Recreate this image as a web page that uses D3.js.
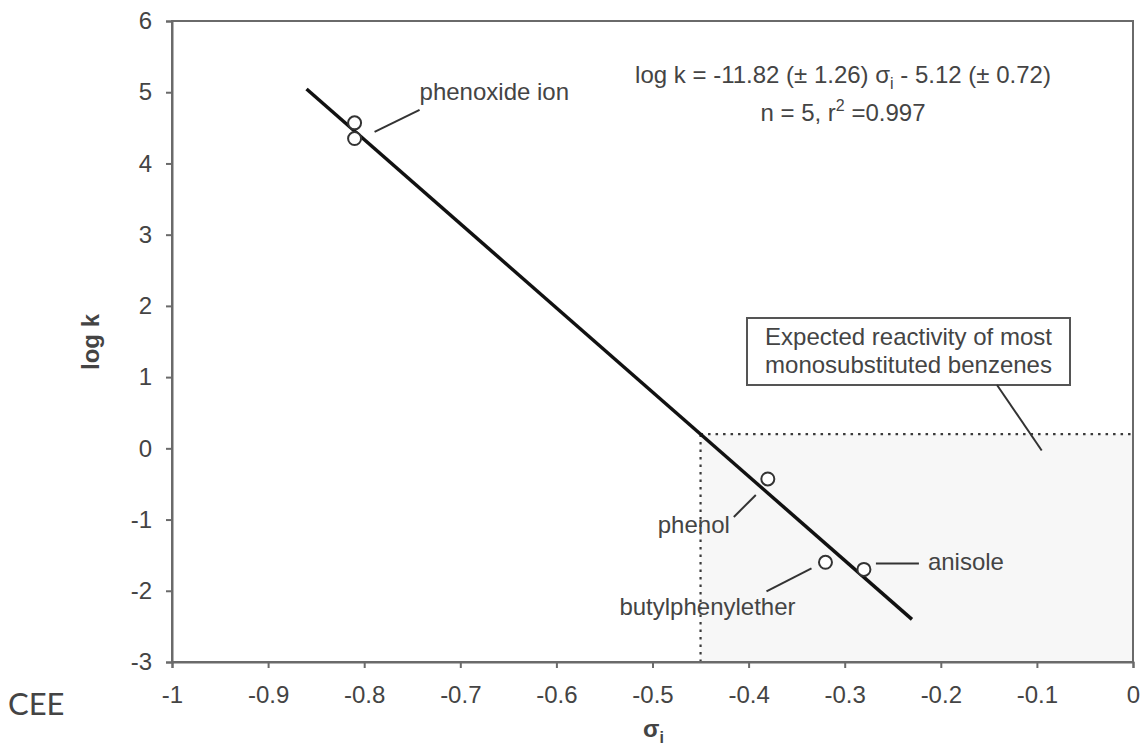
<!DOCTYPE html>
<html>
<head>
<meta charset="utf-8">
<script src="https://cdn.jsdelivr.net/npm/d3@7"></script>
<style>
  html, body { margin: 0; padding: 0; background: #fff; }
  svg text { font-family: "Liberation Sans", Arial, sans-serif; fill: #444; }
</style>
</head>
<body>
<svg id="chart" width="1145" height="746"></svg>
<script>
// Measured rate constants vs. inductive substituent constant
const compounds = ["phenoxide ion", "phenoxide ion", "phenol", "butylphenylether", "anisole"];
const sigmaI    = [-0.81, -0.81, -0.38, -0.32, -0.28];
const logK      = [4.57, 4.35, -0.43, -1.60, -1.70];

// Fitted regression: log k = slope * sigma_i + intercept
const slope = -11.82;
const intercept = -5.12;
const fitRange = [-0.86, -0.23];

// Region of expected reactivity for monosubstituted benzenes
const regionSigma = [-0.45, 0];
const regionLogK  = [-3, 0.2];

const xTicks = [-1, -0.9, -0.8, -0.7, -0.6, -0.5, -0.4, -0.3, -0.2, -0.1, 0];
const yTicks = [-3, -2, -1, 0, 1, 2, 3, 4, 5, 6];

const svg = d3.select("#chart");
const W = 1145, H = 746;
const margin = { top: 21, right: 12, bottom: 84, left: 172 };

const x = d3.scaleLinear().domain([-1, 0]).range([margin.left, W - margin.right]);
const y = d3.scaleLinear().domain([-3, 6]).range([H - margin.bottom, margin.top]);

const axisColor = "#6a6a6a";
const fontSize = 24;

// shaded region
svg.append("rect")
  .attr("x", x(regionSigma[0]))
  .attr("y", y(regionLogK[1]))
  .attr("width", x(regionSigma[1]) - x(regionSigma[0]))
  .attr("height", y(regionLogK[0]) - y(regionLogK[1]))
  .attr("fill", "#f7f7f7");

// dotted boundaries of the region
const dotted = { stroke: "#3a3a3a", width: 2.2, dash: "2.5,5" };
svg.append("line")
  .attr("x1", x(regionSigma[0])).attr("x2", x(regionSigma[1]))
  .attr("y1", y(regionLogK[1])).attr("y2", y(regionLogK[1]))
  .attr("stroke", dotted.stroke).attr("stroke-width", dotted.width).attr("stroke-dasharray", dotted.dash);
svg.append("line")
  .attr("x1", x(regionSigma[0])).attr("x2", x(regionSigma[0]))
  .attr("y1", y(regionLogK[0])).attr("y2", y(regionLogK[1]))
  .attr("stroke", dotted.stroke).attr("stroke-width", dotted.width).attr("stroke-dasharray", dotted.dash);

// frame
svg.append("rect")
  .attr("x", margin.left).attr("y", margin.top)
  .attr("width", W - margin.right - margin.left)
  .attr("height", H - margin.bottom - margin.top)
  .attr("fill", "none").attr("stroke", axisColor).attr("stroke-width", 2);

// axes
const xAxis = svg.append("g")
  .attr("transform", `translate(0,${H - margin.bottom})`)
  .call(d3.axisBottom(x).tickValues(xTicks).tickSize(6).tickPadding(18)
        .tickFormat(d => String(d)));
const yAxis = svg.append("g")
  .attr("transform", `translate(${margin.left},0)`)
  .call(d3.axisLeft(y).tickValues(yTicks).tickSize(6).tickPadding(14)
        .tickFormat(d => String(d)));

[xAxis, yAxis].forEach(g => {
  g.select(".domain").attr("stroke", axisColor).attr("stroke-width", 2);
  g.selectAll(".tick line").attr("stroke", axisColor).attr("stroke-width", 2);
  g.selectAll(".tick text")
    .attr("fill", "#444")
    .style("font-family", '"Liberation Sans", Arial, sans-serif')
    .style("font-size", fontSize + "px");
});

// regression line
svg.append("line")
  .attr("x1", x(fitRange[0])).attr("y1", y(slope * fitRange[0] + intercept))
  .attr("x2", x(fitRange[1])).attr("y2", y(slope * fitRange[1] + intercept))
  .attr("stroke", "#111").attr("stroke-width", 3.5);

// data points
svg.append("g").selectAll("circle")
  .data(d3.range(sigmaI.length))
  .join("circle")
  .attr("cx", i => x(sigmaI[i]))
  .attr("cy", i => y(logK[i]))
  .attr("r", 6.5)
  .attr("fill", "#fff")
  .attr("stroke", "#333")
  .attr("stroke-width", 2);

// point labels with leader lines (offsets in px from the labelled point)
const labels = [
  { i: 0, lead: [20, 9, 65, -13], text: [65, -29], anchor: "start" },
  { i: 2, lead: [-34, 38, -12, 16], text: [-38, 48], anchor: "end" },
  { i: 3, lead: [-59, 29, -14, 6], text: [-118, 46], anchor: "middle" },
  { i: 4, lead: [12, -6, 55, -6], text: [64, -6], anchor: "start" }
];
const lab = svg.append("g");
labels.forEach(l => {
  const px = x(sigmaI[l.i]), py = y(logK[l.i]);
  lab.append("line")
    .attr("x1", px + l.lead[0]).attr("y1", py + l.lead[1])
    .attr("x2", px + l.lead[2]).attr("y2", py + l.lead[3])
    .attr("stroke", "#333").attr("stroke-width", 2);
  lab.append("text")
    .attr("x", px + l.text[0]).attr("y", py + l.text[1])
    .attr("text-anchor", l.anchor)
    .attr("dominant-baseline", "middle")
    .style("font-size", fontSize + "px")
    .text(compounds[l.i]);
});

// callout box for the shaded region
const box = { x0: 747, y0: 318, x1: 1070, y1: 385 };
svg.append("rect")
  .attr("x", box.x0).attr("y", box.y0)
  .attr("width", box.x1 - box.x0).attr("height", box.y1 - box.y0)
  .attr("fill", "#fff").attr("stroke", "#555").attr("stroke-width", 2);
const boxText = svg.append("text")
  .attr("x", (box.x0 + box.x1) / 2).attr("y", 345)
  .attr("text-anchor", "middle")
  .style("font-size", fontSize + "px");
boxText.append("tspan").attr("x", (box.x0 + box.x1) / 2).attr("dy", 0).text("Expected reactivity of most");
boxText.append("tspan").attr("x", (box.x0 + box.x1) / 2).attr("dy", 28).text("monosubstituted benzenes");
svg.append("line")
  .attr("x1", 997).attr("y1", box.y1)
  .attr("x2", x(-0.095)).attr("y2", y(-0.03))
  .attr("stroke", "#333").attr("stroke-width", 2);

// regression equation
const eqX = 843;
const eq1 = svg.append("text").attr("x", eqX).attr("y", 83).attr("text-anchor", "middle")
  .style("font-size", fontSize + "px");
eq1.append("tspan").text(`log k = ${slope.toFixed(2)} (\u00b1 1.26) \u03c3`);
eq1.append("tspan").attr("dy", 6).style("font-size", "16px").text("i");
eq1.append("tspan").attr("dy", -6).text(` - ${Math.abs(intercept).toFixed(2)} (\u00b1 0.72)`);
const eq2 = svg.append("text").attr("x", eqX).attr("y", 121).attr("text-anchor", "middle")
  .style("font-size", fontSize + "px");
eq2.append("tspan").text(`n = ${sigmaI.length}, r`);
eq2.append("tspan").attr("dy", -10).style("font-size", "16px").text("2");
eq2.append("tspan").attr("dy", 10).text(" =0.997");

// axis titles
svg.append("text")
  .attr("transform", `translate(99,342) rotate(-90)`)
  .attr("text-anchor", "middle")
  .style("font-size", fontSize + "px").style("font-weight", "bold").attr("fill", "#222")
  .text("log k");
const xt = svg.append("text")
  .attr("x", 643).attr("y", 737)
  .attr("text-anchor", "start")
  .style("font-size", fontSize + "px").style("font-weight", "bold").attr("fill", "#222");
xt.append("tspan").text("\u03c3");
xt.append("tspan").attr("dy", 6).style("font-size", "16px").text("i");

// corner mark
svg.append("text")
  .attr("x", 8).attr("y", 715)
  .style("font-family", "Lato, 'Open Sans', sans-serif")
  .style("font-size", "31px")
  .attr("fill", "#74584c")
  .text("CEE");
</script>
</body>
</html>
